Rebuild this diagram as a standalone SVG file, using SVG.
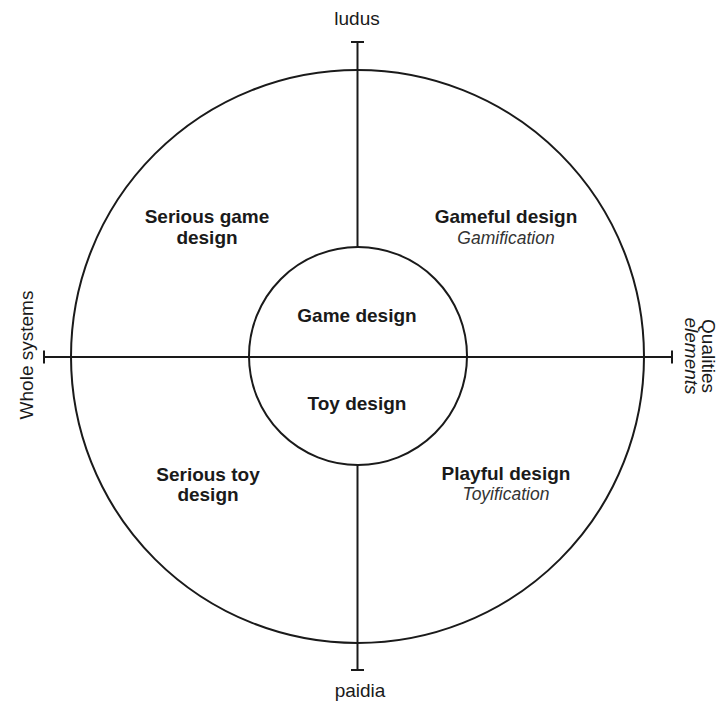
<svg xmlns="http://www.w3.org/2000/svg" width="718" height="702" viewBox="0 0 718 702">
<style>
.ln{stroke:#1a1a1a;stroke-width:2;fill:none}
.t{font-family:"Liberation Sans",Arial,sans-serif;fill:#1a1a1a;text-anchor:middle}
.b{font-weight:bold;font-size:19px}
.n{font-size:19px}
.i{font-style:italic;font-size:17.5px;fill:#333}
</style>
<rect width="718" height="702" fill="#fff"/>
<g id="connectors">
<circle class="ln" cx="357.5" cy="356.5" r="286.5"/>
<line class="ln" x1="357.5" y1="42" x2="357.5" y2="247"/>
<line class="ln" x1="351" y1="42" x2="364" y2="42"/>
<line class="ln" x1="357.5" y1="465" x2="357.5" y2="670"/>
<line class="ln" x1="351" y1="670" x2="364" y2="670"/>
<line class="ln" x1="44" y1="357" x2="672" y2="357"/>
<line class="ln" x1="44" y1="350.5" x2="44" y2="363.5"/>
<line class="ln" x1="672" y1="350.5" x2="672" y2="363.5"/>
</g>
<g id="center">
<circle class="ln" cx="358" cy="356" r="109"/>
<text class="t b" x="357" y="322">Game design</text>
<text class="t b" x="357" y="410">Toy design</text>
</g>
<g id="ludus"><text class="t n" x="357" y="25">ludus</text></g>
<g id="paidia"><text class="t n" x="360" y="697">paidia</text></g>
<g id="whole"><text class="t n" transform="translate(33,355) rotate(-90)">Whole systems</text></g>
<g id="qualities">
<text class="t n" transform="translate(702,356) rotate(90)">Qualities</text>
<text class="t n" style="font-style:italic" transform="translate(685,356) rotate(90)">elements</text>
</g>
<g id="serious-game">
<text class="t b" x="207" y="223">Serious game</text>
<text class="t b" x="207" y="244">design</text>
</g>
<g id="gameful">
<text class="t b" x="506" y="223">Gameful design</text>
<text class="t i" x="506" y="244">Gamification</text>
</g>
<g id="serious-toy">
<text class="t b" x="208" y="481">Serious toy</text>
<text class="t b" x="208" y="501">design</text>
</g>
<g id="playful">
<text class="t b" x="506" y="480">Playful design</text>
<text class="t i" x="506" y="500">Toyification</text>
</g>
</svg>
